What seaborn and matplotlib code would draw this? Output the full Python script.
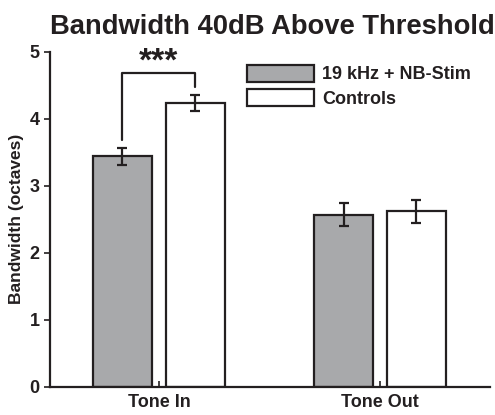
import pandas as pd
import matplotlib
matplotlib.use("Agg")
import matplotlib.pyplot as plt
import seaborn as sns
import numpy as np

# === Data ===
conditions = ["Tone In", "Tone Out"]
groups = ["19 kHz + NB-Stim", "Controls"]
stim_means = [3.44, 2.57]
stim_sem = [0.13, 0.17]
ctrl_means = [4.24, 2.62]
ctrl_sem = [0.12, 0.17]
y_ticks = [0, 1, 2, 3, 4, 5]

df = pd.DataFrame({
    "Condition": conditions * 2,
    "Group": [groups[0]] * 2 + [groups[1]] * 2,
    "Bandwidth": stim_means + ctrl_means,
    "SEM": stim_sem + ctrl_sem,
})

# === Plot Setup ===
sns.set_theme(style="white")
plt.rcParams["font.family"] = ["Liberation Sans", "DejaVu Sans"]
plt.rcParams["font.weight"] = "bold"
ink = "#231f20"

fig, ax = plt.subplots(figsize=(4.95, 4.15), dpi=100)
fig.subplots_adjust(left=0.101, right=0.99, top=0.875, bottom=0.068)

sns.barplot(
    data=df, x="Condition", y="Bandwidth", hue="Group",
    palette=["#a7a9ac", "white"], width=0.66, gap=0.19,
    edgecolor=ink, linewidth=1.6, errorbar=None, ax=ax,
)

# === Error bars from bar positions ===
for cont, sems in zip(ax.containers, [stim_sem, ctrl_sem]):
    xs = [p.get_x() + p.get_width() / 2 for p in cont.patches]
    ys = [p.get_height() for p in cont.patches]
    ax.errorbar(xs, ys, yerr=sems, fmt="none", ecolor=ink,
                elinewidth=1.6, capsize=3.5, capthick=1.6, zorder=5)

# === Significance bracket ===
p0 = ax.containers[0].patches[0]
p1 = ax.containers[1].patches[0]
x0 = p0.get_x() + p0.get_width() / 2
x1 = p1.get_x() + p1.get_width() / 2
ax.plot([x0, x0, x1, x1], [3.68, 4.69, 4.69, 4.48], color=ink, lw=1.6)
ax.text((x0 + x1) / 2, 4.72, "***", ha="center", va="baseline",
        fontsize=24, fontweight="bold", color=ink)

# === Axes ===
ax.set_xlim(-0.493, 1.498)
ax.set_ylim(0, 5)
ax.set_yticks(y_ticks)
ax.set_yticklabels([str(t) for t in y_ticks])
ax.set_xlabel("")
ax.set_ylabel("Bandwidth (octaves)", fontsize=12.5, fontweight="bold", color=ink, labelpad=4)
ax.set_title("Bandwidth 40dB Above Threshold", fontsize=19.7, fontweight="bold",
             color=ink, pad=13, x=0.506)
sns.despine(ax=ax)
for s in ["left", "bottom"]:
    ax.spines[s].set_color(ink)
    ax.spines[s].set_linewidth(1.6)
ax.tick_params(axis="y", direction="out", length=4, width=1.2, color=ink,
               labelsize=13, labelcolor=ink, left=True)
ax.tick_params(axis="x", direction="in", length=4, width=1.2, color=ink,
               labelsize=13, labelcolor=ink, bottom=True, pad=5)
for lbl in ax.get_xticklabels() + ax.get_yticklabels():
    lbl.set_fontweight("bold")

leg = ax.legend(loc="upper left", bbox_to_anchor=(0.448, 0.962), frameon=False,
                borderpad=0, borderaxespad=0,
                handlelength=3.7, handleheight=1.1, handletextpad=0.45,
                labelspacing=0.3, prop={"weight": "bold", "size": 13})
for t in leg.get_texts():
    t.set_color(ink)
for h in leg.legend_handles:
    h.set_linewidth(1.6)

plt.savefig("out.png", dpi=100)
